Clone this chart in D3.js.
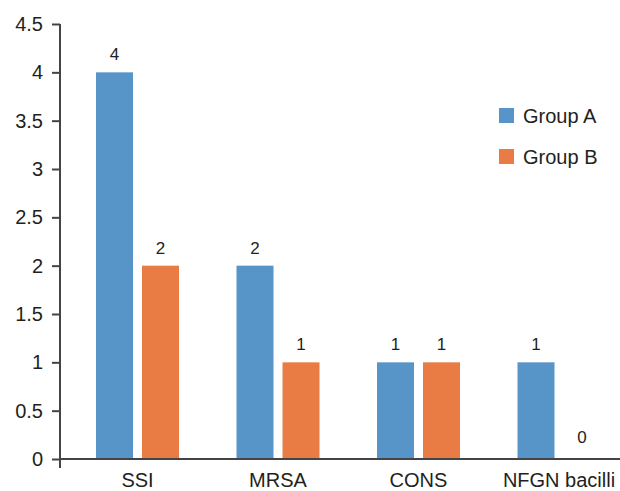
<!DOCTYPE html>
<html>
<head>
<meta charset="utf-8">
<script src="https://cdn.jsdelivr.net/npm/d3@7"></script>
<style>
  body { margin: 0; background: #fff; }
  text { font-family: "Liberation Sans", Arial, sans-serif; fill: #231f20; }
</style>
</head>
<body>
<div id="vis"></div>
<script>
// data
const CATEGORIES = ["SSI", "MRSA", "CONS", "NFGN bacilli"];
const GROUPS = ["Group A", "Group B"];
const GROUP_A = [4, 2, 1, 1];
const GROUP_B = [2, 1, 1, 0];
const Y_TICKS = [0, 0.5, 1, 1.5, 2, 2.5, 3, 3.5, 4, 4.5];
const COLORS = ["#5794c8", "#e97c45"];

const FRAME_WIDTH = 620;
const FRAME_HEIGHT = 491;
const MARGINS = {left: 60, top: 24};
const AXIS_BOTTOM = 459;

const FRAME = d3.select("#vis")
  .append("svg")
  .attr("width", FRAME_WIDTH)
  .attr("height", FRAME_HEIGHT);

const Y_SCALE = d3.scaleLinear()
  .domain([0, 4.5])
  .range([AXIS_BOTTOM, MARGINS.top]);

const X_SCALE = d3.scaleBand()
  .domain(CATEGORIES)
  .range([67.25, 629.25]);

// two bars inside each category
const X_INNER = d3.scaleBand()
  .domain(GROUPS)
  .range([0, 83])
  .paddingInner(9 / 46);

const rows = CATEGORIES.map((c, i) => ({cat: c, vals: [GROUP_A[i], GROUP_B[i]]}));

// bars + value labels
rows.forEach(r => {
  const left = X_SCALE(r.cat) + X_SCALE.bandwidth() / 2 - 41.5;
  GROUPS.forEach((g, j) => {
    const v = r.vals[j];
    FRAME.append("rect")
      .attr("x", left + X_INNER(g))
      .attr("y", Y_SCALE(v))
      .attr("width", X_INNER.bandwidth())
      .attr("height", AXIS_BOTTOM - Y_SCALE(v))
      .attr("fill", COLORS[j]);
    FRAME.append("text")
      .attr("x", left + X_INNER(g) + X_INNER.bandwidth() / 2)
      .attr("y", Y_SCALE(v) - (v === 0 ? 16 : 12))
      .attr("text-anchor", "middle")
      .attr("font-size", "17px")
      .text(v);
  });
});

// y axis
const yAxis = FRAME.append("g")
  .attr("transform", "translate(" + MARGINS.left + ",0)")
  .call(d3.axisLeft(Y_SCALE).tickValues(Y_TICKS).tickSize(8).tickPadding(9)
    .tickFormat(d => d));
yAxis.select(".domain").attr("d", "M0," + MARGINS.top + "V" + (AXIS_BOTTOM + 9));
yAxis.selectAll("path, line").attr("stroke", "#444").attr("stroke-width", 2);
yAxis.selectAll("text")
  .attr("fill", "#231f20")
  .attr("font-size", "20px")
  .attr("font-family", "Liberation Sans, Arial, sans-serif");

// x axis
const xAxis = FRAME.append("g")
  .attr("transform", "translate(0," + AXIS_BOTTOM + ")")
  .call(d3.axisBottom(X_SCALE).tickSize(0).tickPadding(14));
xAxis.select(".domain").attr("d", "M" + MARGINS.left + ",0H" + FRAME_WIDTH);
xAxis.selectAll("path").attr("stroke", "#444").attr("stroke-width", 2);
xAxis.selectAll("text")
  .attr("fill", "#231f20")
  .attr("font-size", "20px")
  .attr("font-family", "Liberation Sans, Arial, sans-serif");

// legend
const legend = FRAME.append("g").attr("transform", "translate(499,108)");
GROUPS.forEach((g, j) => {
  legend.append("rect")
    .attr("x", 0)
    .attr("y", j * 41)
    .attr("width", 15)
    .attr("height", 15)
    .attr("fill", COLORS[j]);
  legend.append("text")
    .attr("x", 24)
    .attr("y", j * 41 + 15)
    .attr("font-size", "20px")
    .text(g);
});
</script>
</body>
</html>
